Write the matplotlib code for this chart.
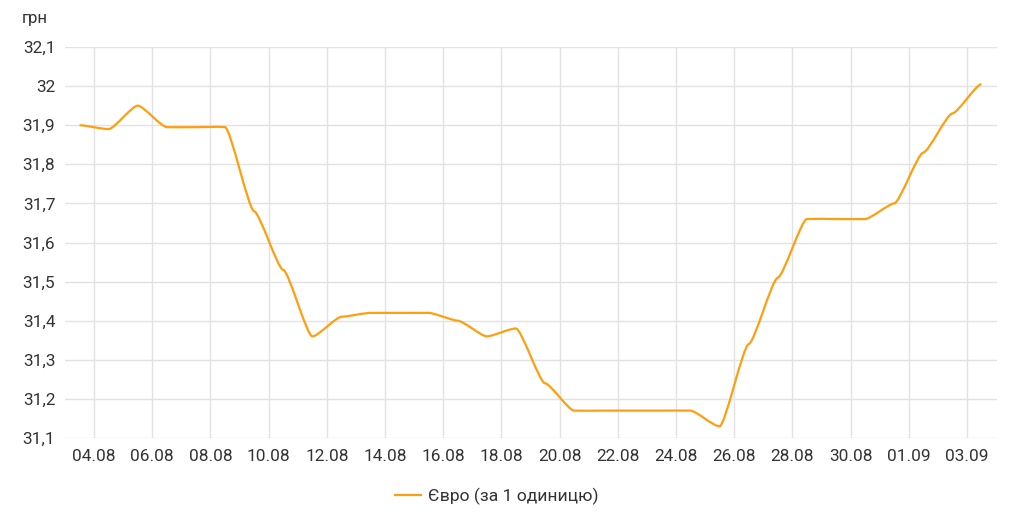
import numpy as np
import pandas as pd
import matplotlib
matplotlib.use('Agg')
import matplotlib.pyplot as plt
import matplotlib.dates as mdates
from matplotlib.path import Path
from matplotlib.patches import PathPatch
from matplotlib.lines import Line2D
from matplotlib.ticker import FuncFormatter

plt.rcParams['font.family'] = ['Roboto', 'DejaVu Sans']

# daily euro rate (UAH per 1 EUR), points sit at midday
dates = pd.date_range('2021-08-03 12:00', periods=32, freq='D')
rate = [31.90, 31.89, 31.95, 31.895, 31.895, 31.895, 31.68, 31.53,
        31.36, 31.41, 31.42, 31.42, 31.42, 31.40, 31.36, 31.38,
        31.24, 31.17, 31.17, 31.17, 31.17, 31.17, 31.13, 31.34,
        31.51, 31.66, 31.66, 31.66, 31.70, 31.83, 31.93, 32.005]
tick_dates = pd.date_range('2021-08-04', periods=16, freq='2D')
y_ticks = [31.1, 31.2, 31.3, 31.4, 31.5, 31.6, 31.7, 31.8, 31.9, 32.0, 32.1]
series_name = 'Євро (за 1 одиницю)'
unit = 'грн'

line_col = '#ff9f10'
text_col = '#333333'


def tension_path(x, y, c=0.2, k=0.08):
    """bezier through the points, control points pulled mostly sideways
    (gives the little shoulders at every point like the amcharts line)"""
    x = np.asarray(x, float)
    y = np.asarray(y, float)
    n = len(x)
    t = np.zeros(n)
    for i in range(n):
        a = max(i - 1, 0)
        b = min(i + 1, n - 1)
        t[i] = (y[b] - y[a]) / (x[b] - x[a]) * k
    verts = [(x[0], y[0])]
    codes = [Path.MOVETO]
    for i in range(n - 1):
        d = (x[i + 1] - x[i]) * c
        verts += [(x[i] + d, y[i] + d * t[i]), (x[i + 1] - d, y[i + 1] - d * t[i + 1]), (x[i + 1], y[i + 1])]
        codes += [Path.CURVE4] * 3
    return Path(verts, codes)


fig = plt.figure(figsize=(10.24, 5.3), dpi=100)
ax = fig.add_axes([65 / 1024, 1 - 438 / 530, 932 / 1024, 391 / 530])

xnum = mdates.date2num(dates)
ax.add_patch(PathPatch(tension_path(xnum, rate), facecolor='none', edgecolor=line_col, lw=1.6, zorder=3))

ax.set_xlim(mdates.date2num(pd.Timestamp('2021-08-03 00:00')), mdates.date2num(pd.Timestamp('2021-09-04 00:50')))
ax.set_ylim(31.1, 32.1)
ax.set_yticks(y_ticks)
ax.set_xticks(mdates.date2num(tick_dates))
ax.xaxis.set_major_formatter(mdates.DateFormatter('%d.%m'))
ax.yaxis.set_major_formatter(FuncFormatter(lambda v, p: ('%g' % round(v, 1)).replace('.', ',')))

for sp in ax.spines.values():
    sp.set_visible(False)
ax.grid(True, color='#e2e2e2', lw=1)
ax.tick_params(axis='both', length=0, labelsize=12.4, colors=text_col)
ax.tick_params(axis='y', pad=7)
ax.tick_params(axis='x', pad=8)

fig.text(22 / 1024, 1 - 19 / 530, unit, fontsize=12.2, color=text_col, va='center')

handle = Line2D([], [], color=line_col, lw=1.6)
fig.legend([handle], [series_name], loc='center', bbox_to_anchor=(497 / 1024, 1 - 496 / 530),
           frameon=False, fontsize=12.6, handlelength=1.5, handletextpad=0.4, labelcolor=text_col)

fig.savefig('out.png', dpi=100)
